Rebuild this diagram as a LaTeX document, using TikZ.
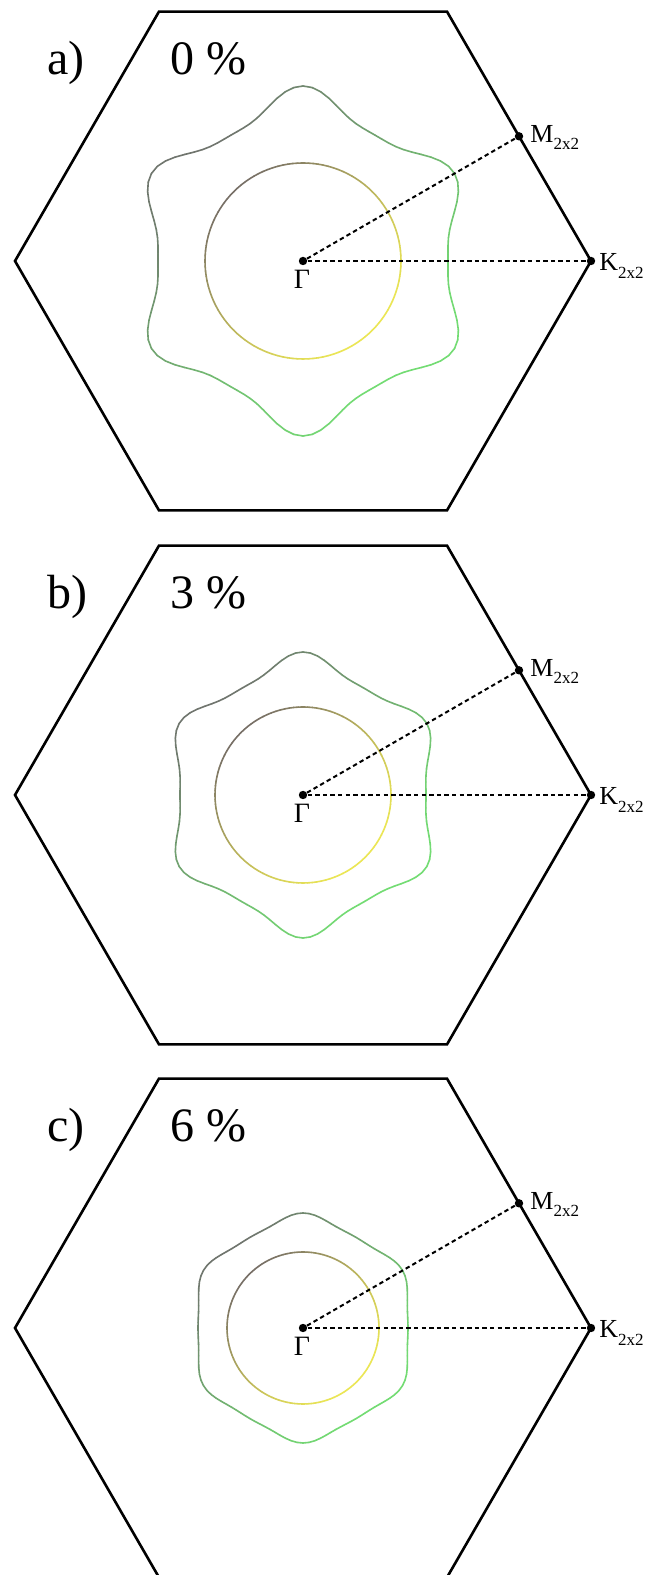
\documentclass[tikz,border=0pt]{standalone}
\usepackage{fontspec}
\setmainfont{Liberation Serif}
\usetikzlibrary{calc}
\definecolor{lgreen}{RGB}{115,220,115}
\definecolor{fgrey}{RGB}{112,116,110}
\definecolor{yel}{RGB}{235,230,85}
\definecolor{ibrown}{RGB}{118,110,102}
\tikzset{
  hexline/.style={line width=1.3pt, line join=miter},
  dashline/.style={line width=1pt, dash pattern=on 2.2pt off 1.6pt},
  dotnode/.style={circle, fill=black, inner sep=0pt, minimum size=4.2pt},
  lbl/.style={inner sep=0pt, font=\fontsize{13}{15}\selectfont},
  glbl/.style={inner sep=0pt, font=\fontsize{14}{16}\selectfont},
  big/.style={inner sep=0pt, anchor=base west, font=\fontsize{24}{28}\selectfont},
  fs/.style={line width=0.8pt, line cap=round}
}
\newcommand{\subtwo}{\raisebox{-0.28em}{\fontsize{8.5}{9}\selectfont 2x2}}
% #1 centre name, #2 r0, #3 amplitude, #4 colour A (grey), #5 colour B
\newcommand{\fsurf}[5]{%
  \foreach \t in {0,3,...,357}{%
    \pgfmathsetmacro{\ra}{#2-#3*cos(6*\t)+0.2*#3*cos(12*\t)}%
    \pgfmathsetmacro{\rb}{#2-#3*cos(6*(\t+3))+0.2*#3*cos(12*(\t+3))}%
    \pgfmathtruncatemacro{\w}{100*((1+cos(\t+1.5-135))/2)^1.3}%
    \draw[fs, draw=#4!\w!#5] ($(#1)+(\t:\ra)$) -- ($(#1)+(\t+3:\rb)$);
  }%
}
% #1 suffix, #2 centre y, #3 letter, #4 percent, #5 outer r0, #6 outer amp, #7 inner r0, #8 inner amp
\newcommand{\bzpanel}[8]{%
  \coordinate (G#1) at (303,#2);
  \draw[hexline] ($(G#1)+(0:288)$) -- ($(G#1)+(60:288)$) -- ($(G#1)+(120:288)$)
     -- ($(G#1)+(180:288)$) -- ($(G#1)+(240:288)$) -- ($(G#1)+(300:288)$) -- cycle;
  \fsurf{G#1}{#5}{#6}{fgrey}{lgreen}
  \fsurf{G#1}{#7}{#8}{ibrown}{yel}
  \node[dotnode] (Gd#1) at (G#1) {};
  \node[dotnode] (K#1) at ($(G#1)+(0:288)$) {};
  \node[dotnode] (M#1) at ($(G#1)+(30:249.4)$) {};
  \draw[dashline] (Gd#1) -- (M#1);
  \draw[dashline] (Gd#1) -- (K#1);
  \node[lbl, anchor=base west] (Ml#1) at ($(M#1)+(11,-6)$) {M\subtwo};
  \node[lbl, anchor=base west] (Kl#1) at ($(K#1)+(8,-10)$) {K\subtwo};
  \node[glbl, anchor=base] (Gl#1) at ($(G#1)+(-1,-28)$) {Γ};
  \node[big] (L#1) at ($(G#1)+(-256,186)$) {#3};
  \node[big] (P#1) at ($(G#1)+(-133,186)$) {#4};
}
\begin{document}
\begin{tikzpicture}[x=0.5pt,y=0.5pt]
\useasboundingbox (0,0) rectangle (651,1575);
\clip (0,0) rectangle (651,1575);
\fill[white] (0,0) rectangle (651,1575);
\bzpanel{a}{1314}{a)}{0 \%}{157}{15}{98}{0}
\bzpanel{b}{780}{b)}{3 \%}{131}{10}{88}{0}
\bzpanel{c}{247}{c)}{6 \%}{109}{5}{76}{0}
\end{tikzpicture}
\end{document}
